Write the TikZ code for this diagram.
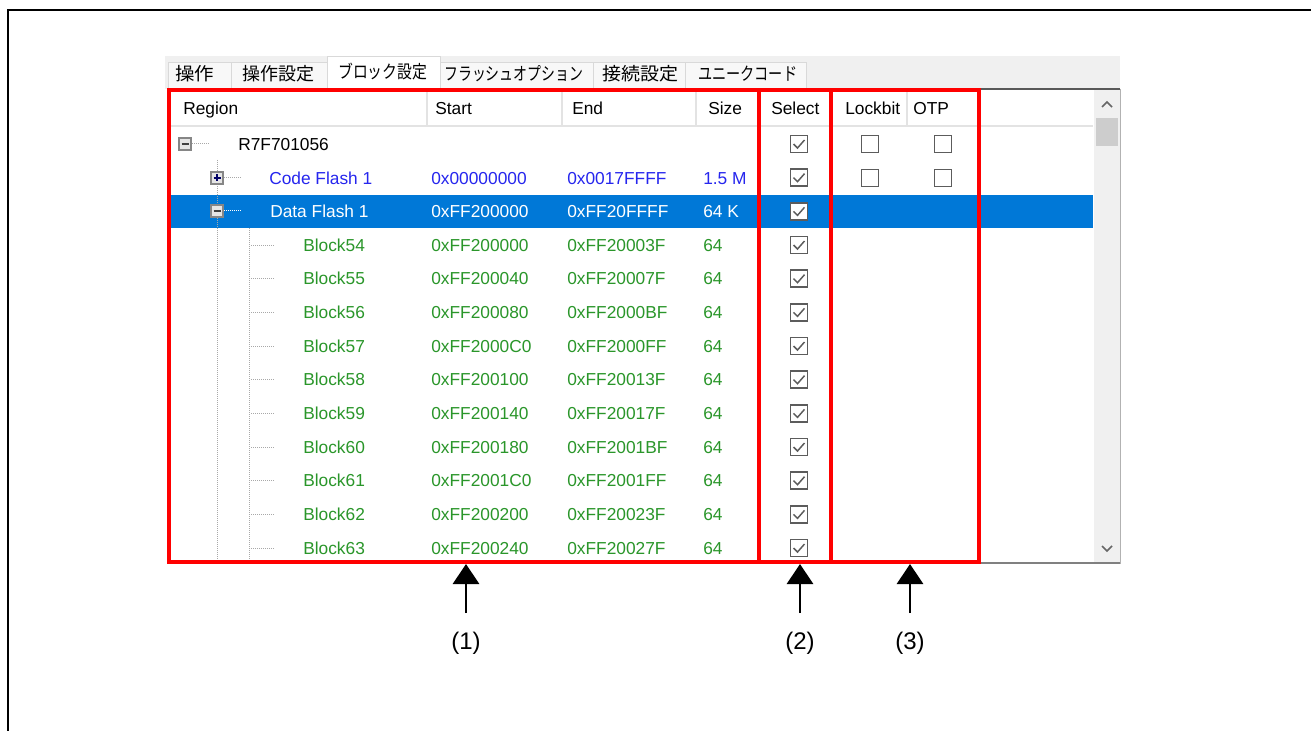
\documentclass[tikz,border=0pt]{standalone}
\usepackage{fontspec}
\usepackage{graphicx}
\setmainfont{Liberation Sans}
\newfontfamily\jpfont{Noto Sans CJK JP}
\usetikzlibrary{arrows.meta,fit}

\definecolor{tabgrey}{HTML}{F0F0F0}
\definecolor{tabedge}{HTML}{D9D9D9}
\definecolor{gridgrey}{HTML}{E3E3E3}
\definecolor{selblue}{HTML}{0078D7}
\definecolor{codeblue}{HTML}{2626EE}
\definecolor{blkgreen}{HTML}{2A962A}
\definecolor{boxgrey}{HTML}{5C5C5C}
\definecolor{treegrey}{HTML}{A8A8A8}
\definecolor{thumbgrey}{HTML}{CDCDCD}

\tikzset{
  ui/.style={font=\fontsize{13}{15}\selectfont, inner sep=0pt, anchor=west,
    text height=9.3pt, text depth=0pt},
  tablbl/.style={font=\jpfont\fontsize{13.5}{15}\selectfont, inner sep=0pt, anchor=west},
  redbox/.style={draw=red, line width=3pt, inner sep=0pt},
  arr/.style={-{Triangle[width=19.5pt,length=15pt]}, line width=2.2pt},
  num/.style={font=\fontsize{18}{20}\selectfont, inner sep=0pt},
  tree/.style={treegrey, dash pattern=on 0.75pt off 0.75pt, line width=0.75pt},
  cbox/.pic={\draw[boxgrey, line width=1.4pt, fill=white] (-8.5,-8.5) rectangle (8.5,8.5);},
  cmark/.pic={\draw[boxgrey, line width=1.4pt, fill=white] (-8.5,-8.5) rectangle (8.5,8.5);
    \draw[boxgrey, line width=1.1pt] (-5.5,0) -- (-1.5,4) -- (5.5,-4);},
  tminus/.pic={\draw[treegrey!80!black, fill=gray!20, line width=0.9pt] (-6,-6) rectangle (6,6);
    \draw[black!75, line width=1.1pt] (-3.5,0) -- (3.5,0);},
  tplus/.pic={\draw[treegrey!80!black, fill=gray!20, line width=0.9pt] (-6,-6) rectangle (6,6);
    \draw[blue!40!black, line width=1.1pt] (-3.5,0) -- (3.5,0) (0,-3.5) -- (0,3.5);}
}

\begin{document}
\begin{tikzpicture}[x=0.75pt, y=-0.75pt]
\useasboundingbox (0,0) rectangle (1311,731);
% outer frame
\draw[line width=1.5pt] (8,731) -- (8,10) -- (1311,10);

% tab strip
\fill[tabgrey] (165,56) rectangle (1120,89);
\foreach \a/\b in {168/231, 231/327, 440/593, 593/685, 685/806}
  \draw[tabedge, fill=tabgrey!50!white] (\a,62) rectangle (\b,89);
% table body
\draw[gray!60, fill=white] (167,89) rectangle (1120,563);
\draw[gray!70!black, line width=0.8pt] (979,89) -- (1120,89);
\draw[gray, line width=1pt] (167,563) -- (1120,563);
\draw[tabedge, fill=white] (327,56) rectangle (440,90);
\fill[white] (328,88) rectangle (439,91);

\node[tablbl] (tab1) at (175,74) {\resizebox{29.25pt}{\height}{操作}};
\node[tablbl] (tab2) at (242,74) {\resizebox{54pt}{\height}{操作設定}};
\node[tablbl] (tab3) at (338,72) {\resizebox{66.75pt}{\height}{ブロック設定}};
\node[tablbl] (tab4) at (444,74) {\resizebox{104.25pt}{\height}{フラッシュオプション}};
\node[tablbl] (tab5) at (602,74) {\resizebox{57pt}{\height}{接続設定}};
\node[tablbl] (tab6) at (698,74) {\resizebox{74.25pt}{\height}{ユニークコード}};

% scrollbar
\fill[tabgrey] (1094,90) rectangle (1120,562);
\fill[thumbgrey] (1096,118) rectangle (1118,146);
\draw[gray!80!black, line width=1.2pt] (1102,107) -- (1107,102) -- (1112,107);
\draw[gray!80!black, line width=1.2pt] (1102,546) -- (1107,551) -- (1112,546);

% header
\foreach \x in {427,562,696,907}
  \draw[gridgrey, line width=1pt] (\x,90) -- (\x,126);
\draw[gridgrey, line width=1pt] (170,126) -- (1093,126);
\foreach \t/\x in {Region/183, Start/435, End/572, Size/708, Select/771, Lockbit/845, OTP/913}
  \node[ui] (h\t) at (\x,108) {\t};

% selected row
\fill[selblue] (170,195) rectangle (1093,228);

% tree lines
\draw[tree] (217,160) -- (217,563);
\draw[tree] (249,228) -- (249,563);
\draw[tree] (192,144) -- (210,144);
\draw[tree] (224,178) -- (241,178);
\draw[tree, white] (224,211) -- (241,211);
\foreach \i in {3,...,12}
  \draw[tree] (251,{144+33.67*\i}) -- (274,{144+33.67*\i});
\pic at (185,144) {tminus};
\pic at (217,178) {tplus};
\pic at (217,211) {tminus};

% rows
\node[ui] (r0) at (238,144) {R7F701056};
\node[ui, codeblue] (r1) at (269,178) {Code Flash 1};
\node[ui, codeblue] (s1) at (431,178) {0x00000000};
\node[ui, codeblue] (e1) at (567,178) {0x0017FFFF};
\node[ui, codeblue] (z1) at (703,178) {1.5 M};
\node[ui, white] (r2) at (270,211) {Data Flash 1};
\node[ui, white] (s2) at (431,211) {0xFF200000};
\node[ui, white] (e2) at (567,211) {0xFF20FFFF};
\node[ui, white] (z2) at (703,211) {64 K};
\foreach \n/\s/\e [count=\i from 3] in {54/FF200000/FF20003F, 55/FF200040/FF20007F,
    56/FF200080/FF2000BF, 57/FF2000C0/FF2000FF, 58/FF200100/FF20013F,
    59/FF200140/FF20017F, 60/FF200180/FF2001BF, 61/FF2001C0/FF2001FF,
    62/FF200200/FF20023F, 63/FF200240/FF20027F} {
  \pgfmathsetmacro\ry{144+33.67*\i}
  \node[ui, blkgreen] (r\i) at (303,\ry) {Block\n};
  \node[ui, blkgreen] (s\i) at (431,\ry) {0x\s};
  \node[ui, blkgreen] (e\i) at (567,\ry) {0x\e};
  \node[ui, blkgreen] (z\i) at (703,\ry) {64};
}

% check boxes
\foreach \i in {0,...,12}
  \pic at (799,{144+33.67*\i}) {cmark};
\foreach \ry in {144,178} {
  \pic at (870,\ry) {cbox};
  \pic at (943,\ry) {cbox};
}

% marked areas
\node[redbox, fit={(169,90) (759,562)}] (rgnbox) {};
\node[redbox, fit={(759,90) (831,562)}] (selbox) {};
\node[redbox, fit={(831,90) (979,562)}] (lockbox) {};

\node[num] (n1) at (466,643) {(1)};
\node[num] (n2) at (800,643) {(2)};
\node[num] (n3) at (910,643) {(3)};
\coordinate (t1) at (466,613);
\coordinate (t2) at (800,613);
\coordinate (t3) at (910,613);
\draw[arr] (t1) -- (t1 |- rgnbox.south);
\draw[arr] (t2) -- (t2 |- selbox.south);
\draw[arr] (t3) -- (t3 |- lockbox.south);
\end{tikzpicture}
\end{document}
